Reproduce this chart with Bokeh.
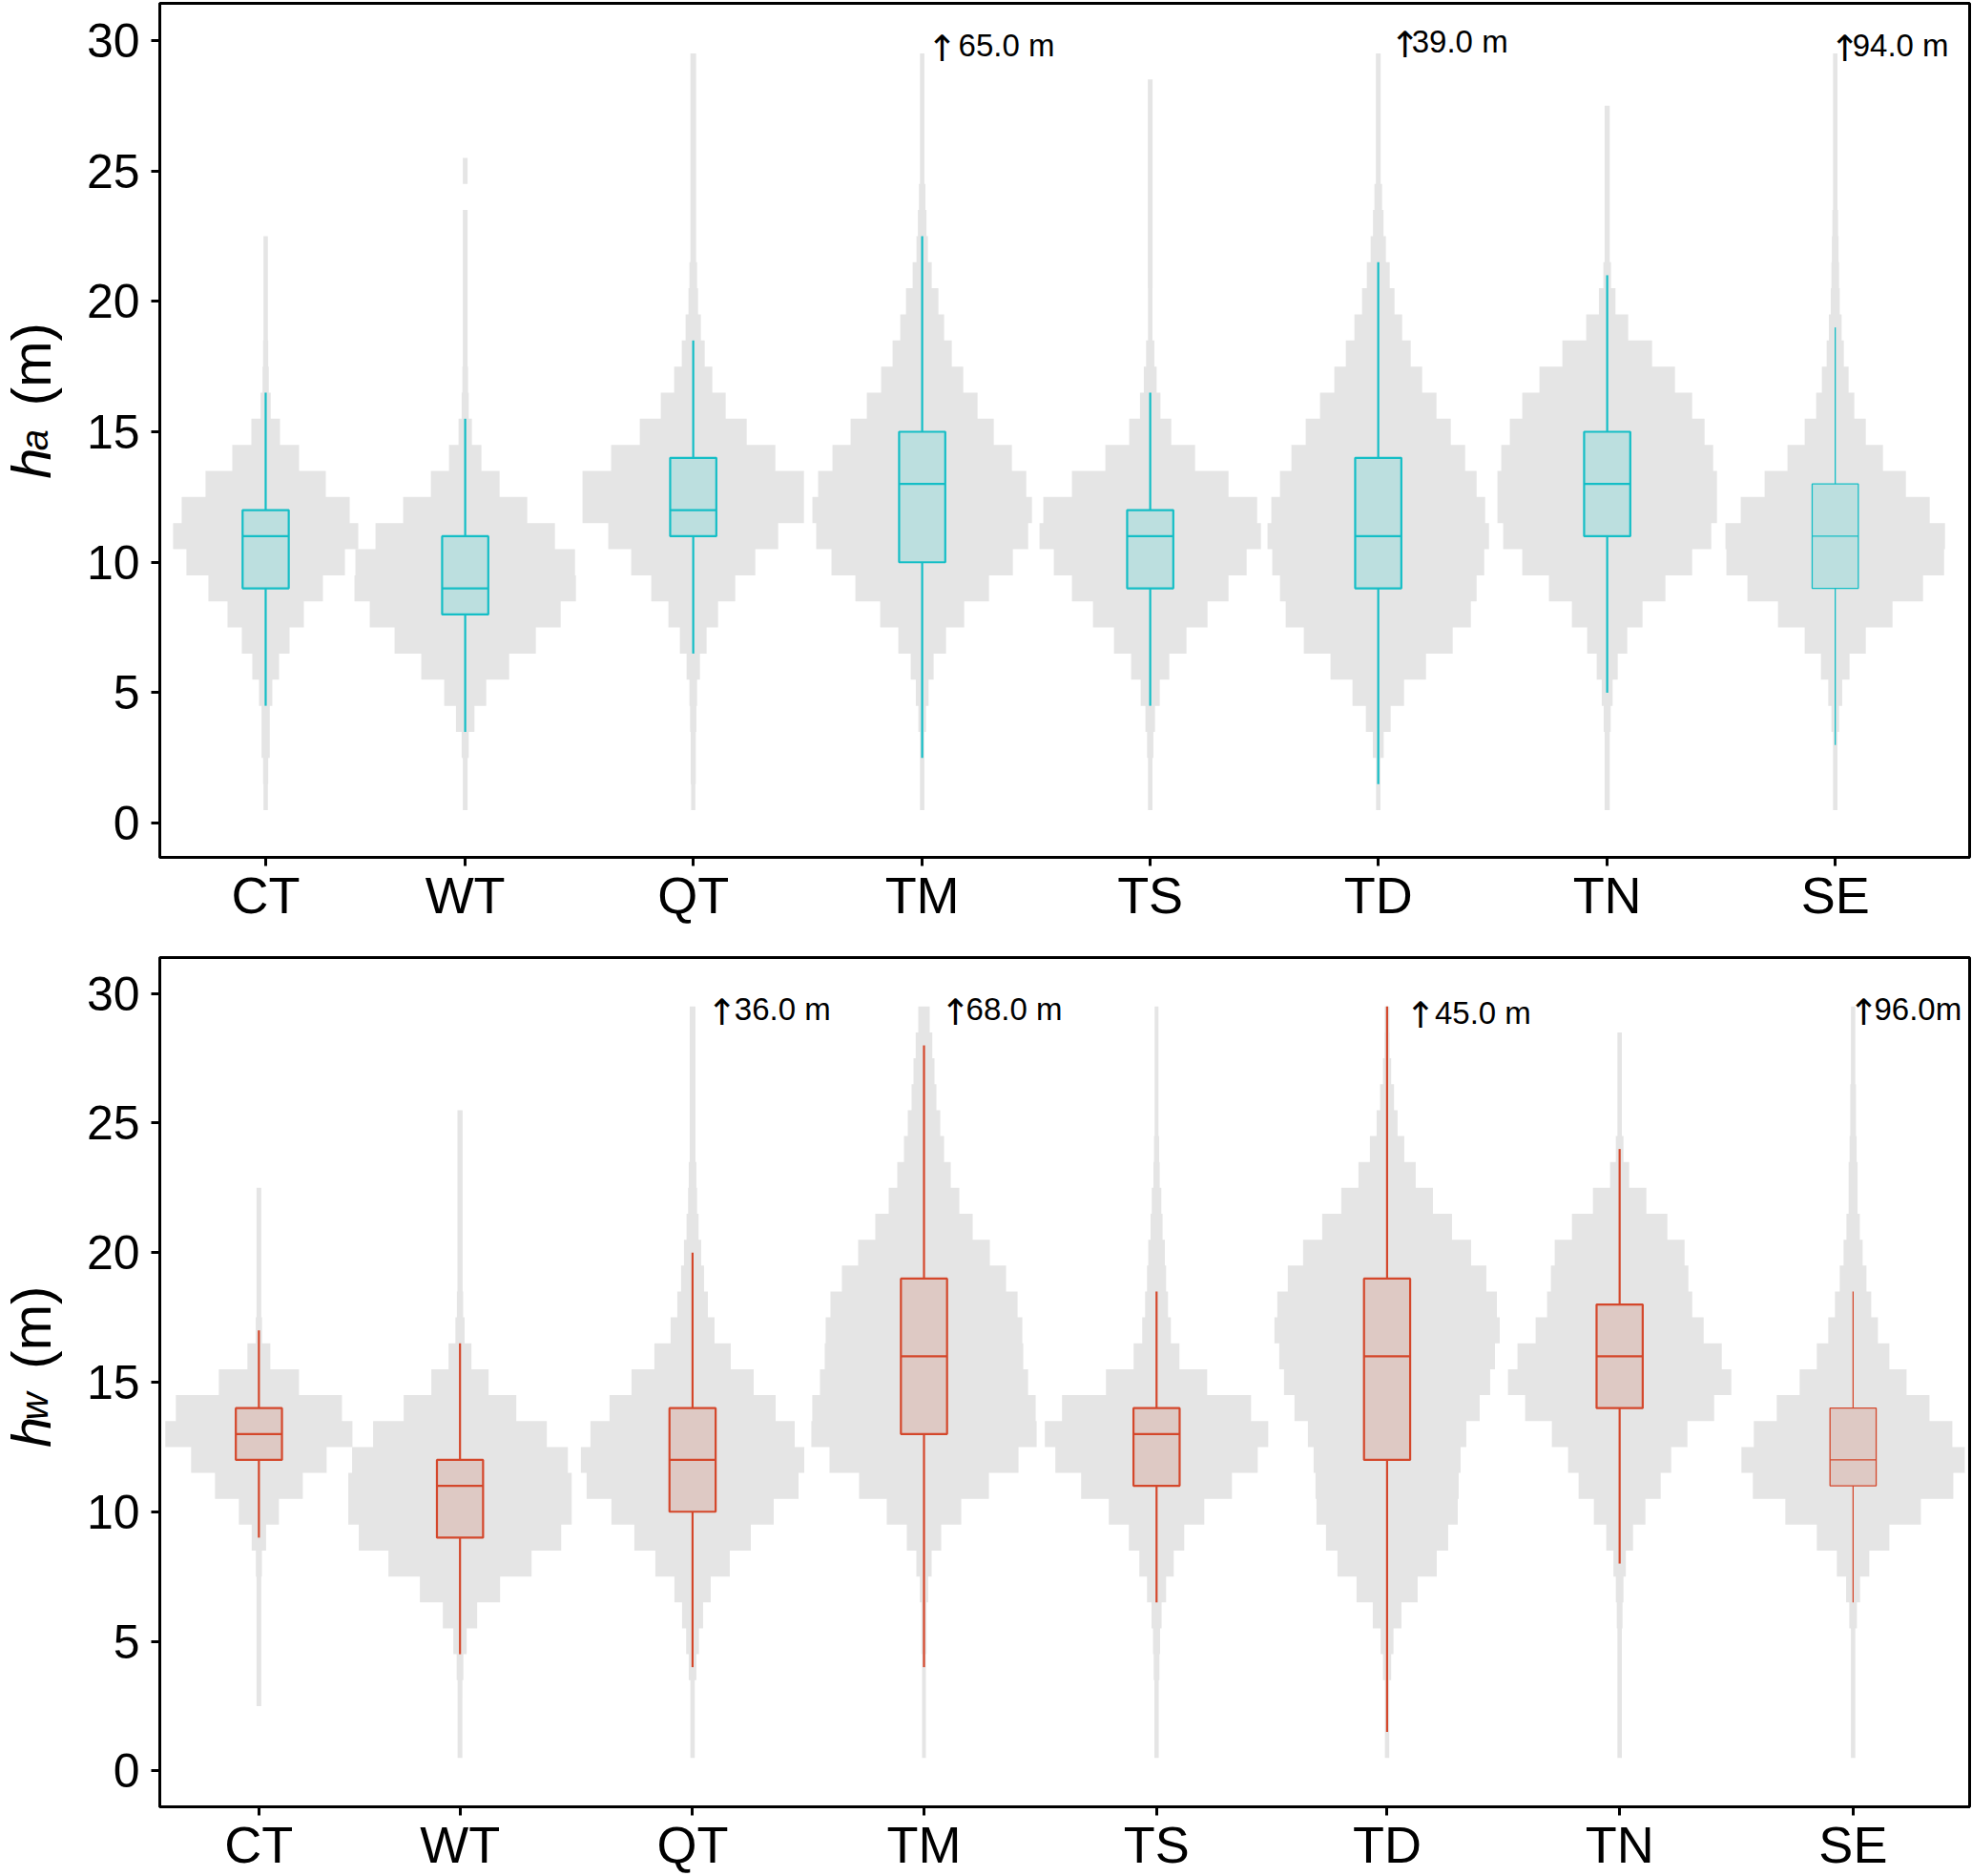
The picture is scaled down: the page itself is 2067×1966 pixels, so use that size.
from math import pi
from bokeh.plotting import figure
from bokeh.models import FixedTicker, Label, Range1d
from bokeh.layouts import column, row
from bokeh.embed import file_html
from bokeh.resources import INLINE

# ---------------- data ----------------
categories = ["CT", "WT", "QT", "TM", "TS", "TD", "TN", "SE"]
ha_positions = [0.468, 1.350, 2.358, 3.370, 4.378, 5.386, 6.398, 7.406]
hw_positions = [0.438, 1.327, 2.355, 3.378, 4.406, 5.425, 6.453, 7.485]
y_ticks = [0, 5, 10, 15, 20, 25, 30]

# half-width (relative frequency) of each 1-m height bin, bins centred on 1, 2, 3 ... m
ha_CT = [2.3, 2.7, 4.3, 4.3, 7, 14, 25, 40, 60, 83, 97, 88, 63, 35, 15, 5.3, 3.3, 2.7, 2.3, 2.3, 2.3, 2.3]
ha_WT = [2.5, 2.5, 3.7, 9.7, 22, 46, 74, 100, 116, 115, 94, 65, 36, 17, 7, 3.7, 3, 2.5, 2.5, 2.5, 2.5, 2.5, 2.5, 0, 2.5]
ha_QT = [2.2, 2.7, 2.7, 3.3, 4, 7, 14, 26, 44, 65, 89, 116, 116, 86, 56, 34, 20, 12, 8, 5, 4, 3, 3, 3, 3, 3, 3, 3, 3]
ha_TM = [2.3, 2.3, 2.3, 4, 6.7, 12, 25, 44, 70, 95, 111, 115, 109, 94, 75, 58, 43, 31, 23, 17, 10, 6, 4.5, 3.4, 2.3, 2.3, 2.3, 2.3, 2.3]
ha_TS = [2.3, 2.3, 3.3, 5, 10, 20, 38, 60, 82, 101, 116, 112, 82, 47, 22, 10.7, 6.7, 4.3, 2.3, 2.3, 2.5, 2.5, 2.5, 2.5, 2.5, 2.5, 2.5, 2.5]
ha_TD = [2.3, 2.3, 5.7, 13, 27, 50, 78, 97, 103, 111, 116, 112, 103, 91, 76, 61, 46, 34, 25, 17, 12, 8, 5.5, 4, 2.5, 2.5, 2.5, 2.5, 2.5]
ha_TN = [2.7, 2.7, 2.7, 3.7, 5.7, 11, 21, 37, 61, 89, 109, 115, 115, 111, 102, 89, 71, 47, 22, 8.7, 4, 2.7, 2.7, 2.7, 2.7, 2.7, 2.7]
ha_SE = [2.3, 2.3, 2.3, 4, 7.3, 15, 32, 60, 92, 114, 115, 99, 74, 50, 32, 20, 14, 9, 6.7, 4.7, 4, 3.5, 3, 2.3, 2.3, 2.3, 2.3, 2.3, 2.3]

hw_CT = [0, 0, 2.5, 2.5, 2.5, 2.5, 2.5, 3.2, 7.5, 21, 46, 71, 98, 87, 42, 12, 3.3, 2.5, 2.5, 2.5, 2.5, 2.5]
hw_WT = [2.5, 2.5, 2.5, 3.5, 7, 18, 42, 75, 106, 117, 117, 113, 91, 59, 30, 12, 4.8, 3.3, 2.7, 2.7, 2.7, 2.7, 2.7, 2.7, 2.7]
hw_QT = [2.3, 2.3, 2.3, 4, 6.7, 11, 19, 39, 61, 85, 111, 117, 107, 87, 64, 40, 23, 16, 12, 9, 6.3, 4.7, 4, 3, 3, 3, 3, 3, 3]
hw_TM = [2, 2, 2, 2, 2.7, 2.7, 4.3, 8, 18, 39, 68, 99, 118, 117, 109, 104, 103, 98, 86, 69, 51, 37, 28, 21, 17, 13, 11, 8.7, 6]
hw_TS = [2.3, 2.3, 2.3, 3, 3.7, 5.3, 10, 18, 29, 50, 79, 106, 117, 99, 53, 24, 15, 12, 10, 8.7, 6.3, 5, 3.3, 2.7, 2, 2, 2, 2, 2]
hw_TD = [2.3, 2.3, 2.3, 4.3, 6.7, 15, 32, 52, 64, 74, 75, 77, 83, 97, 108, 113, 118, 115, 104, 88, 68, 48, 30, 18, 11, 7.3, 4.3, 2.7, 2.5]
hw_TN = [2.3, 2.3, 2.3, 2.3, 2.3, 3, 4, 6.5, 14, 27, 43, 54, 71, 99, 117, 107, 88, 76, 72, 68, 50, 28, 10, 4, 2.3, 2.3, 2.3, 2.3]
hw_SE = [2.3, 2.3, 2.3, 2.3, 2.3, 4, 7.3, 17, 38, 71, 105, 117, 104, 80, 56, 38, 26, 19, 14, 10, 7, 4.7, 4.7, 3.7, 3, 3, 2.3, 2.3, 2.3]

# box-plot statistics (m)
ha_lower = [4.5, 3.5, 6.5, 2.5, 4.5, 1.5, 5, 3]
ha_q1 = [9, 8, 11, 10, 9, 9, 11, 9]
ha_median = [11, 9, 12, 13, 11, 11, 13, 11]
ha_q3 = [12, 11, 14, 15, 12, 14, 15, 13]
ha_upper = [16.5, 15.5, 18.5, 22.5, 16.5, 21.5, 21, 19]

hw_lower = [9, 4.5, 4, 4, 6.5, 1.5, 8, 6.5]
hw_q1 = [12, 9, 10, 13, 11, 12, 14, 11]
hw_median = [13, 11, 12, 16, 13, 16, 16, 12]
hw_q3 = [14, 12, 14, 19, 14, 19, 18, 14]
hw_upper = [17, 16.5, 20, 28, 18.5, 29.5, 24, 18.5]

# maximum-value notes (off-scale maxima)
ha_note_cats = ["TM", "TD", "SE"]
ha_note_texts = ["65.0 m", "39.0 m", "94.0 m"]
hw_note_cats = ["QT", "TM", "TD", "SE"]
hw_note_texts = ["36.0 m", "68.0 m", "45.0 m", "96.0m"]

# ---------------- styling ----------------
FONT = "Liberation Sans"
DENSITY_SCALE = 1.0 / 237.0
BOX_HALF = 0.102
VIOLIN_COLOR = "#E5E5E5"
TOTAL_W = 2066
TITLE_W = 80


def make_panel(positions, hists, lower, q1, med, q3, upper, stroke, fill,
               note_cats, note_texts, arrow_dx, text_dx, note_y,
               height, border_top, y_lo, y_hi):
    p = figure(width=TOTAL_W - TITLE_W, height=height, output_backend="svg",
               toolbar_location=None,
               x_range=Range1d(0, 8), y_range=Range1d(y_lo, y_hi),
               min_border_left=167 - TITLE_W, min_border_right=2,
               min_border_top=border_top, min_border_bottom=50)
    p.background_fill_color = "white"
    p.border_fill_color = "white"

    # stepped violins (mirrored histograms)
    xs, ys = [], []
    for pos, h in zip(positions, hists):
        rx, ry = [], []
        for k, w in enumerate(h, start=1):
            d = w * DENSITY_SCALE
            rx += [pos + d, pos + d]
            ry += [k - 0.5, k + 0.5]
        lx = [2 * pos - x for x in reversed(rx)]
        ly = list(reversed(ry))
        xs.append(rx + lx)
        ys.append(ry + ly)
    p.patches(xs, ys, fill_color=VIOLIN_COLOR, line_color=None)

    lw = [2.2] * 7 + [1.3]
    p.segment(x0=positions, y0=lower, x1=positions, y1=q1, line_color=stroke, line_width=lw)
    p.segment(x0=positions, y0=q3, x1=positions, y1=upper, line_color=stroke, line_width=lw)
    p.quad(left=[x - BOX_HALF for x in positions], right=[x + BOX_HALF for x in positions],
           bottom=q1, top=q3, fill_color=fill, line_color=stroke, line_width=lw)
    p.segment(x0=[x - BOX_HALF for x in positions], y0=med,
              x1=[x + BOX_HALF for x in positions], y1=med,
              line_color=stroke, line_width=lw)

    for c, t, adx, tdx, ny in zip(note_cats, note_texts, arrow_dx, text_dx, note_y):
        x = positions[categories.index(c)]
        p.add_layout(Label(x=x + adx, y=ny - 0.12, text="\u2191", text_font="DejaVu Sans",
                           text_font_size="38px", text_color="black",
                           text_baseline="middle", text_align="center"))
        p.add_layout(Label(x=x + tdx, y=ny, text=t, text_font=FONT, text_font_size="33px",
                           text_color="black", text_baseline="middle", text_align="left"))

    p.grid.visible = False
    p.outline_line_color = "black"
    p.outline_line_width = 3
    p.outline_line_alpha = 1.0
    p.xaxis.ticker = FixedTicker(ticks=positions, minor_ticks=[])
    p.xaxis.major_label_overrides = {x: c for x, c in zip(positions, categories)}
    p.yaxis.ticker = FixedTicker(ticks=y_ticks, minor_ticks=[])
    for ax in (p.xaxis[0], p.yaxis[0]):
        ax.axis_line_color = "black"
        ax.axis_line_width = 3
        ax.major_tick_line_color = "black"
        ax.major_tick_line_width = 3
        ax.major_tick_out = 9
        ax.major_tick_in = 0
        ax.minor_tick_line_color = None
        ax.major_label_text_font = FONT
        ax.major_label_text_color = "black"
    p.xaxis.major_label_text_font_size = "54px"
    p.xaxis.major_label_standoff = 0
    p.yaxis.major_label_text_font_size = "50px"
    p.yaxis.major_label_standoff = 12
    return p


def make_title(height, start_from_top, sub, sub_gap):
    t = figure(width=TITLE_W, height=height, output_backend="svg", toolbar_location=None,
               x_range=Range1d(0, TITLE_W), y_range=Range1d(0, height),
               min_border=0)
    t.axis.visible = False
    t.grid.visible = False
    t.outline_line_color = None
    t.background_fill_color = "white"
    t.border_fill_color = "white"
    y0 = height - start_from_top
    t.add_layout(Label(x=32, y=y0, text="h", angle=pi / 2, text_font=FONT,
                       text_font_style="italic", text_font_size="58px",
                       text_color="black", text_baseline="alphabetic", text_align="left"))
    t.add_layout(Label(x=35, y=y0 + 32, text=sub, angle=pi / 2, text_font=FONT,
                       text_font_style="italic", text_font_size="40px",
                       text_color="black", text_baseline="alphabetic", text_align="left"))
    t.add_layout(Label(x=32, y=y0 + sub_gap, text="(m)", angle=pi / 2, text_font=FONT,
                       text_font_size="58px", text_color="black",
                       text_baseline="alphabetic", text_align="left"))
    return t


H1, H2 = 970, 995
p1 = make_panel(ha_positions, [ha_CT, ha_WT, ha_QT, ha_TM, ha_TS, ha_TD, ha_TN, ha_SE],
                ha_lower, ha_q1, ha_median, ha_q3, ha_upper,
                "#14BEC6", "#BCDFDF",
                ha_note_cats, ha_note_texts,
                [0.089, 0.119, 0.043], [0.160, 0.148, 0.076], [29.82, 29.95, 29.82],
                H1, 3, -1.31, 31.42)
p2 = make_panel(hw_positions, [hw_CT, hw_WT, hw_QT, hw_TM, hw_TS, hw_TD, hw_TN, hw_SE],
                hw_lower, hw_q1, hw_median, hw_q3, hw_upper,
                "#D4472B", "#DEC9C4",
                hw_note_cats, hw_note_texts,
                [0.131, 0.140, 0.149, 0.048], [0.185, 0.186, 0.211, 0.093], [29.41, 29.41, 29.27, 29.41],
                H2, 33, -1.39, 31.39)
t1 = make_title(H1, 540, "a", 83)
t2 = make_title(H2, 574, "w", 92)

layout = column(row(t1, p1, spacing=0), row(t2, p2, spacing=0), spacing=0)
open("out.html", "w").write(file_html(layout, INLINE))
